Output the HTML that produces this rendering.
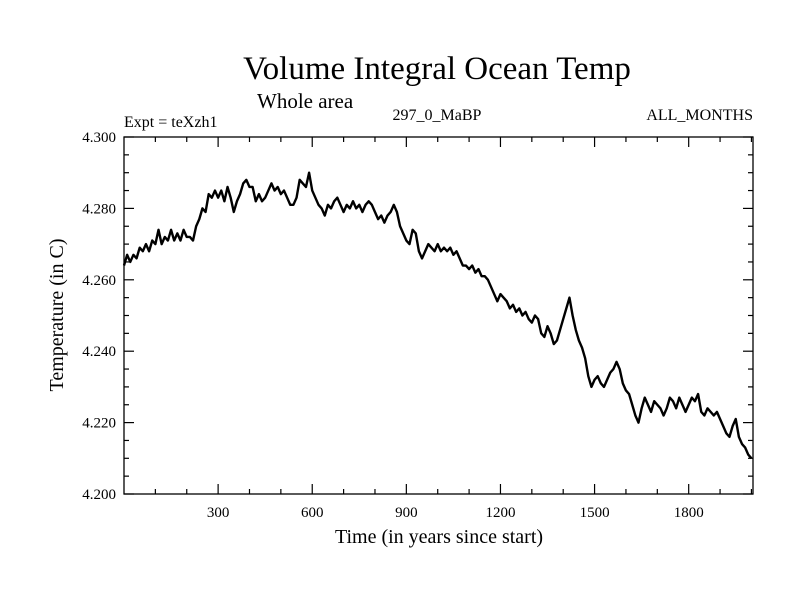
<!DOCTYPE html>
<html><head><meta charset="utf-8"><style>
body{margin:0;background:#fff;}
svg text{font-family:"Liberation Serif",serif;fill:#000;}
</style></head><body>
<svg id="chart" width="800" height="600" xmlns="http://www.w3.org/2000/svg">
<rect width="800" height="600" fill="#fff"/>
<text x="437" y="79" font-size="33" text-anchor="middle">Volume Integral Ocean Temp</text>
<text x="257" y="108" font-size="21">Whole area</text>
<text x="124" y="127" font-size="16">Expt = teXzh1</text>
<text x="437" y="120" font-size="16" text-anchor="middle">297_0_MaBP</text>
<text x="753" y="120" font-size="16" text-anchor="end">ALL_MONTHS</text>
<text x="439" y="543" font-size="20" text-anchor="middle">Time (in years since start)</text>
<text transform="translate(63,315) rotate(-90)" font-size="20" text-anchor="middle">Temperature (in C)</text>
<g id="axes"></g>
<path id="series" fill="none" stroke="#000" stroke-width="2.4" stroke-linejoin="round"/>
<rect x="124" y="137" width="629" height="357" fill="none" stroke="#000" stroke-width="1.3"/>
</svg>
<script>
const startYear = 0;
const stepYears = 10;
const temps = [4.264,4.267,4.265,4.267,4.266,4.269,4.268,4.270,4.268,4.271,4.270,4.274,4.270,4.272,4.271,4.274,4.271,4.273,4.271,4.274,
4.272,4.272,4.271,4.275,4.277,4.280,4.279,4.284,4.283,4.285,4.283,4.285,4.282,4.286,4.283,4.279,4.282,4.284,4.287,4.288,
4.286,4.286,4.282,4.284,4.282,4.283,4.285,4.287,4.285,4.286,4.284,4.285,4.283,4.281,4.281,4.283,4.288,4.287,4.286,4.290,
4.285,4.283,4.281,4.280,4.278,4.281,4.280,4.282,4.283,4.281,4.279,4.281,4.280,4.282,4.280,4.281,4.279,4.281,4.282,4.281,
4.279,4.277,4.278,4.276,4.278,4.279,4.281,4.279,4.275,4.273,4.271,4.270,4.274,4.273,4.268,4.266,4.268,4.270,4.269,4.268,
4.270,4.268,4.269,4.268,4.269,4.267,4.268,4.266,4.264,4.264,4.263,4.264,4.262,4.263,4.261,4.261,4.260,4.258,4.256,4.254,
4.256,4.255,4.254,4.252,4.253,4.251,4.252,4.250,4.251,4.249,4.248,4.250,4.249,4.245,4.244,4.247,4.245,4.242,4.243,4.246,
4.249,4.252,4.255,4.250,4.246,4.243,4.241,4.238,4.233,4.230,4.232,4.233,4.231,4.230,4.232,4.234,4.235,4.237,4.235,4.231,
4.229,4.228,4.225,4.222,4.220,4.224,4.227,4.225,4.223,4.226,4.225,4.224,4.222,4.224,4.227,4.226,4.224,4.227,4.225,4.223,
4.225,4.227,4.226,4.228,4.223,4.222,4.224,4.223,4.222,4.223,4.221,4.219,4.217,4.216,4.219,4.221,4.216,4.214,4.213,4.211,4.210];
const xMajorTicks = [300,600,900,1200,1500,1800];
const xTickLabels = ["300","600","900","1200","1500","1800"];
const yMajorTicks = [4.200,4.220,4.240,4.260,4.280,4.300];
const yTickLabels = ["4.200","4.220","4.240","4.260","4.280","4.300"];

const X0=124,X1=753,Y0=494,Y1=137,XMIN=0,XMAX=2005,YMIN=4.2,YMAX=4.3;
const sx=v=>X0+(v-XMIN)/(XMAX-XMIN)*(X1-X0);
const sy=v=>Y0-(v-YMIN)/(YMAX-YMIN)*(Y0-Y1);
const NS="http://www.w3.org/2000/svg";
const axes=document.getElementById('axes');
function line(x1,y1,x2,y2,name){
  const l=document.createElementNS(NS,'line');
  l.setAttribute('x1',x1);l.setAttribute('y1',y1);l.setAttribute('x2',x2);l.setAttribute('y2',y2);
  l.setAttribute('stroke','#000');l.setAttribute('stroke-width','1.2');
  
  
  axes.appendChild(l);
}
function text(x,y,s,anchor,name){
  const t=document.createElementNS(NS,'text');
  t.setAttribute('x',x);t.setAttribute('y',y);t.setAttribute('font-size','15');t.setAttribute('text-anchor',anchor);
  t.textContent=s;
  
  
  axes.appendChild(t);
}
for(let v=100;v<XMAX;v+=100){
  const major=v%300===0, x=sx(v), len=major?10:5;
  line(x,Y0,x,Y0-len,'x-tick');
  line(x,Y1,x,Y1+len,'x-tick-top');
}
xMajorTicks.forEach((v,i)=>text(sx(v),517,xTickLabels[i],'middle','x-tick-label'));
for(let k=0;k<=20;k++){
  const v=YMIN+k*0.005, y=sy(v), len=(k%4===0)?10:5;
  line(X0,y,X0+len,y,'y-tick');
  line(X1,y,X1-len,y,'y-tick-right');
}
yMajorTicks.forEach((v,i)=>text(116,sy(v)+5,yTickLabels[i],'end','y-tick-label'));
let d='';
temps.forEach((v,i)=>{d+=(i?'L':'M')+sx(startYear+i*stepYears).toFixed(2)+' '+sy(v).toFixed(2);});
document.getElementById('series').setAttribute('d',d);
</script>
</body></html>
